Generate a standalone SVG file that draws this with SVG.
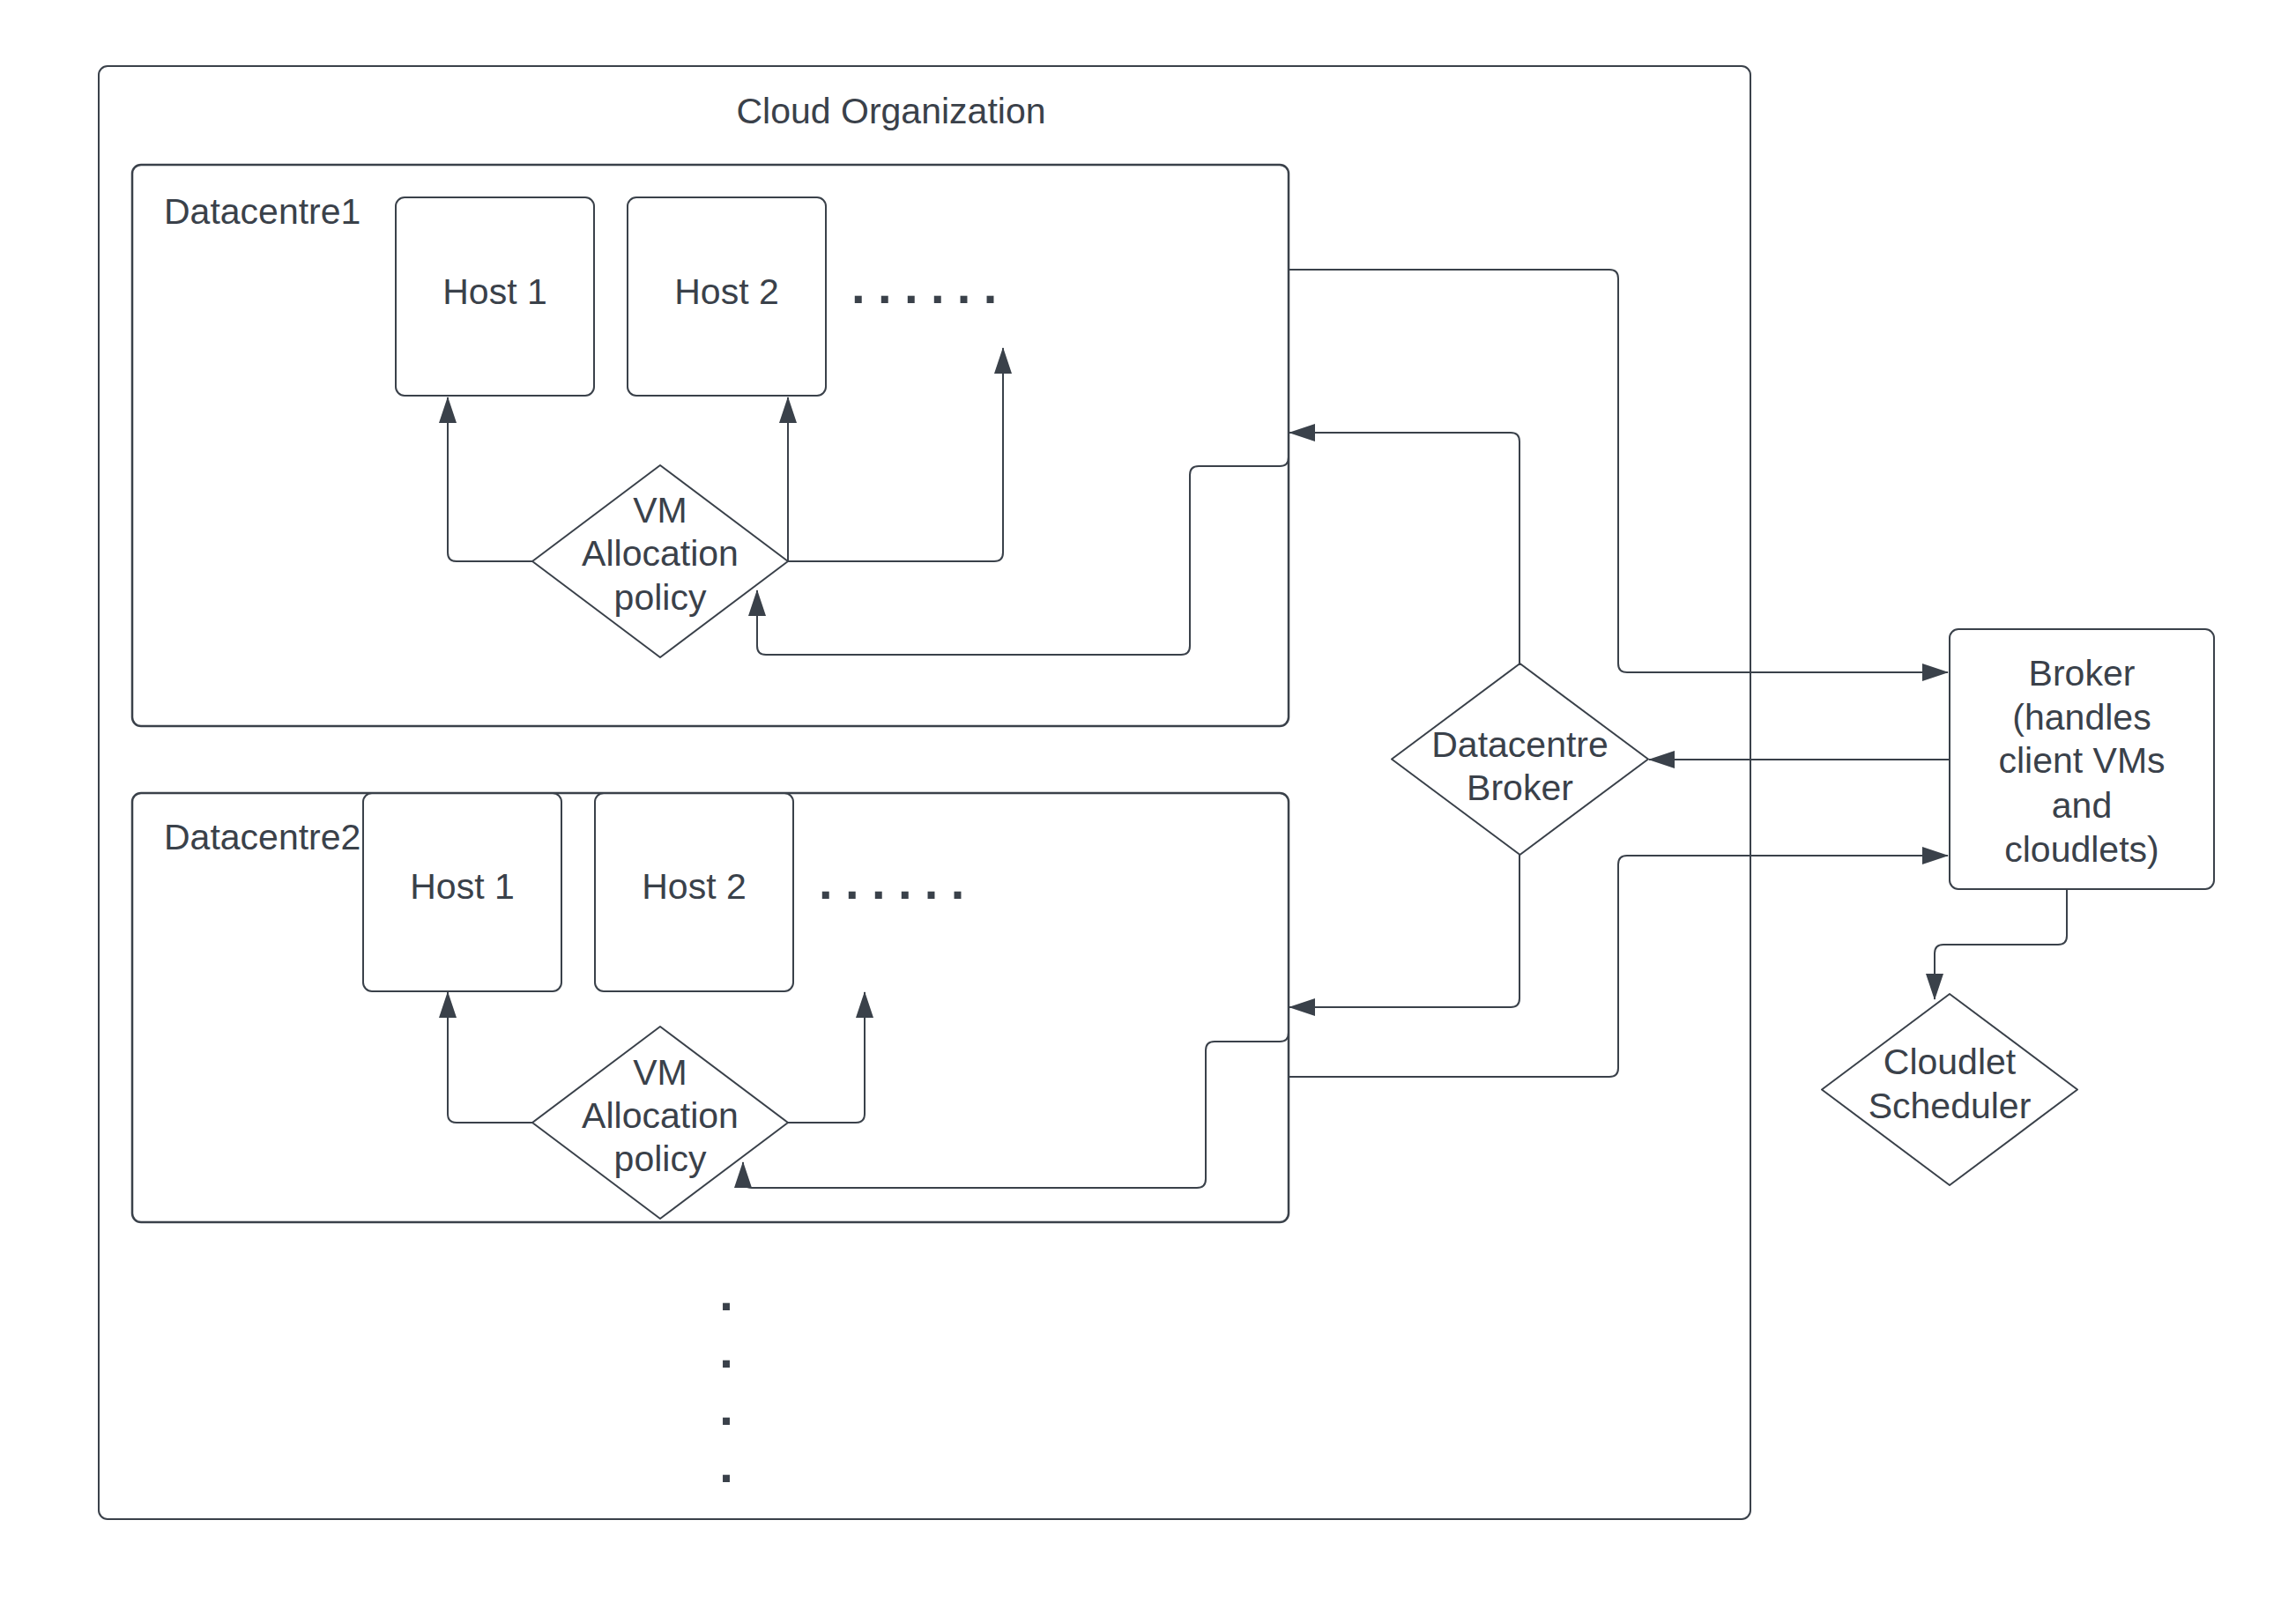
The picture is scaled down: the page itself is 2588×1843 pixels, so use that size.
<svg xmlns="http://www.w3.org/2000/svg" width="2588" height="1843" viewBox="0 0 2588 1843">
<style>
.box{fill:none;stroke:#3a414a;stroke-width:2}
.dc{fill:none;stroke:#3a414a;stroke-width:2.5}
.dia{fill:#ffffff;stroke:#3a414a;stroke-width:2;stroke-linejoin:round}
.t{font-family:"Liberation Sans",Arial,sans-serif;font-size:41px;fill:#3a414a}
.c{text-anchor:middle}
.dots{font-family:"Liberation Sans",Arial,sans-serif;font-size:56px;font-weight:bold;fill:#3a414a;letter-spacing:14.4px}
.vd{font-family:"Liberation Sans",Arial,sans-serif;font-size:56px;font-weight:bold;fill:#3a414a;text-anchor:middle}
.con{fill:none;stroke:#3a414a;stroke-width:2}
.arr{marker-end:url(#ah)}
</style>
<defs>
<marker id="ah" viewBox="0 0 30 20" refX="29" refY="10" markerWidth="30" markerHeight="20" markerUnits="userSpaceOnUse" orient="auto">
<path d="M0,0 L30,10 L0,20 Z" fill="#3a414a"/>
</marker>
</defs>
<rect width="2588" height="1843" fill="#ffffff"/>

<g id="cloud-organization">
<rect class="box" x="112" y="75" width="1874" height="1649" rx="10"/>
<text class="t c" x="1011" y="140">Cloud Organization</text>
<text class="vd"><tspan x="824" y="1487">.</tspan><tspan x="824" y="1552">.</tspan><tspan x="824" y="1617">.</tspan><tspan x="824" y="1682">.</tspan></text>
</g>

<g id="datacentre1">
<rect class="dc" x="150" y="187" width="1312" height="637" rx="10"/>
<text class="t" x="186" y="254">Datacentre1</text>
<text class="dots" x="966" y="344">......</text>
</g>
<g id="dc1-host1">
<rect class="box" x="449" y="224" width="225" height="225" rx="10"/>
<text class="t c" x="561.5" y="345">Host 1</text>
</g>
<g id="dc1-host2">
<rect class="box" x="712" y="224" width="225" height="225" rx="10"/>
<text class="t c" x="824.5" y="345">Host 2</text>
</g>

<g id="datacentre2">
<rect class="dc" x="150" y="900" width="1312" height="487" rx="10"/>
<text class="t" x="186" y="964">Datacentre2</text>
<text class="dots" x="929" y="1020">......</text>
</g>
<g id="dc2-host1">
<rect class="box" x="412" y="900" width="225" height="225" rx="10"/>
<text class="t c" x="524.5" y="1020">Host 1</text>
</g>
<g id="dc2-host2">
<rect class="box" x="675" y="900" width="225" height="225" rx="10"/>
<text class="t c" x="787.5" y="1020">Host 2</text>
</g>

<g id="connectors">
<path class="con arr" d="M604,637 L518,637 Q508,637 508,627 L508,451"/>
<path class="con arr" d="M894,637 L894,451"/>
<path class="con arr" d="M894,637 L1128,637 Q1138,637 1138,627 L1138,395"/>
<path class="con arr" d="M1462,505 L1462,519 Q1462,529 1452,529 L1360,529 Q1350,529 1350,539 L1350,733 Q1350,743 1340,743 L869,743 Q859,743 859,733 L859,670"/>
<path class="con arr" d="M1462,306 L1826,306 Q1836,306 1836,316 L1836,753 Q1836,763 1846,763 L2210,763"/>
<path class="con arr" d="M2212,862 L1871,862"/>
<path class="con arr" d="M1724,753 L1724,501 Q1724,491 1714,491 L1463,491"/>
<path class="con arr" d="M1724,970 L1724,1133 Q1724,1143 1714,1143 L1463,1143"/>
<path class="con arr" d="M1462,1160 L1462,1172 Q1462,1182 1452,1182 L1378,1182 Q1368,1182 1368,1192 L1368,1338 Q1368,1348 1358,1348 L853,1348 Q843,1348 843,1338 L843,1319"/>
<path class="con arr" d="M1462,1222 L1826,1222 Q1836,1222 1836,1212 L1836,981 Q1836,971 1846,971 L2210,971"/>
<path class="con arr" d="M604,1274 L518,1274 Q508,1274 508,1264 L508,1126"/>
<path class="con arr" d="M894,1274 L971,1274 Q981,1274 981,1264 L981,1126"/>
<path class="con arr" d="M2345,1009 L2345,1062 Q2345,1072 2335,1072 L2205,1072 Q2195,1072 2195,1082 L2195,1134"/>
</g>

<g id="dc1-vm-allocation-policy">
<polygon class="dia" points="749,528 894,637 749,746 604,637"/>
<text class="t c"><tspan x="749" y="593">VM</tspan><tspan x="749" y="642">Allocation</tspan><tspan x="749" y="692">policy</tspan></text>
</g>
<g id="dc2-vm-allocation-policy">
<polygon class="dia" points="749,1165 894,1274 749,1383 604,1274"/>
<text class="t c"><tspan x="749" y="1231">VM</tspan><tspan x="749" y="1280">Allocation</tspan><tspan x="749" y="1329">policy</tspan></text>
</g>
<g id="datacentre-broker">
<polygon class="dia" points="1724.5,753 1870,861.5 1724.5,970 1579,861.5"/>
<text class="t c"><tspan x="1724.5" y="859">Datacentre</tspan><tspan x="1724.5" y="908">Broker</tspan></text>
</g>
<g id="broker">
<rect class="box" x="2212" y="714" width="300" height="295" rx="10" fill="#ffffff"/>
<text class="t c"><tspan x="2362" y="778">Broker</tspan><tspan x="2362" y="828">(handles</tspan><tspan x="2362" y="877">client VMs</tspan><tspan x="2362" y="928">and</tspan><tspan x="2362" y="978">cloudlets)</tspan></text>
</g>
<g id="cloudlet-scheduler">
<polygon class="dia" points="2212,1128 2357,1236.5 2212,1345 2067,1236.5"/>
<text class="t c"><tspan x="2212" y="1219">Cloudlet</tspan><tspan x="2212" y="1269">Scheduler</tspan></text>
</g>
</svg>
